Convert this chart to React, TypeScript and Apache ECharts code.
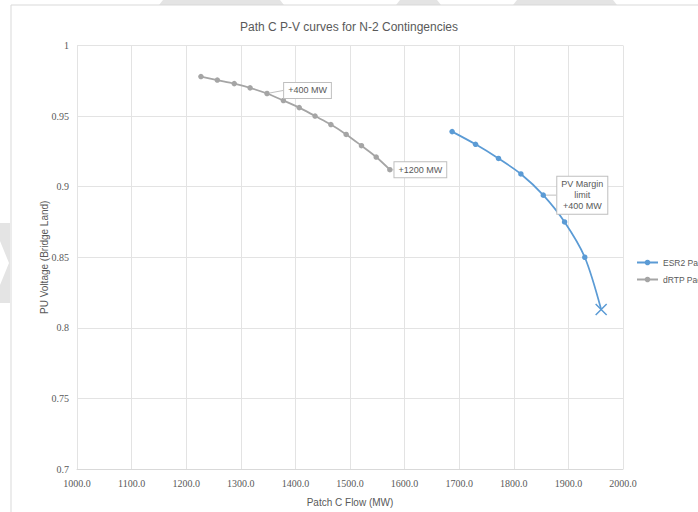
import React, { useEffect, useRef } from "react";
import * as echarts from "echarts";

const titleText = "Path C P-V curves for N-2 Contingencies";
const xAxisName = "Patch C Flow (MW)";
const yAxisName = "PU Voltage (Bridge Land)";
const seriesNames = ["ESR2 Pac7", "dRTP Pac7"];

const flowBlue = [1687, 1730, 1772, 1813, 1854, 1893, 1930, 1960];
const voltBlue = [0.939, 0.930, 0.920, 0.909, 0.894, 0.875, 0.850, 0.813];

const flowGray = [1227, 1257, 1288, 1317, 1348, 1378, 1407, 1436, 1465, 1493, 1521, 1548, 1573];
const voltGray = [0.978, 0.9755, 0.973, 0.970, 0.966, 0.961, 0.956, 0.950, 0.944, 0.937, 0.929, 0.921, 0.912];

const grayLabels: Record<number, string> = { 4: "+400 MW", 12: "+1200 MW" };
const blueLabels: Record<number, string> = { 4: "PV Margin\nlimit\n+400 MW" };

const BLUE = "#5B9BD5";
const GRAY = "#A5A5A5";
const TXT = "#595959";
const SANS = "'Liberation Sans', Arial, sans-serif";
const SERIF = "'Liberation Serif', serif";
const SYM = 5.5;

export default function App() {
  const ref = useRef<HTMLDivElement>(null);
  useEffect(() => {
    if (!ref.current) return;
    const chart = echarts.init(ref.current, null, { renderer: "svg" });

    const calloutLabel = (text: string, dx: number, dy: number) => ({
      show: true,
      formatter: text,
      position: [SYM / 2 + dx, SYM / 2 + dy],
      fontFamily: SANS,
      fontSize: 9,
      lineHeight: 11,
      color: TXT,
      align: "center",
      verticalAlign: "middle",
      backgroundColor: "#ffffff",
      borderColor: "#bfbfbf",
      borderWidth: 1,
      padding: [2, 4],
    });
    const guide = { show: true, lineStyle: { color: "#bfbfbf", width: 1 } };

    const blueData = flowBlue.map((x, i) => {
      const item: any = { value: [x, voltBlue[i]] };
      if (blueLabels[i]) {
        item.label = calloutLabel(blueLabels[i], 39, 0);
        item.labelLine = guide;
      }
      if (i === flowBlue.length - 1) {
        item.symbol = "path://M0,0L10,10M10,0L0,10";
        item.symbolSize = 11;
        item.itemStyle = { color: "none", borderColor: BLUE, borderWidth: 1.5 };
      }
      return item;
    });

    const grayData = flowGray.map((x, i) => {
      const item: any = { value: [x, voltGray[i]] };
      if (grayLabels[i]) {
        item.label = i === 4 ? calloutLabel(grayLabels[i], 40.5, -3) : calloutLabel(grayLabels[i], 30.5, 0);
        item.labelLine = guide;
      }
      return item;
    });

    chart.setOption({
      animation: false,
      backgroundColor: "#ffffff",
      title: {
        text: titleText,
        left: "center",
        top: 16,
        textStyle: { fontFamily: SANS, fontSize: 12, fontWeight: "normal", color: TXT },
      },
      graphic: [
        { type: "polygon", shape: { points: [[163, 0], [280, 0], [284, 5], [159, 5]] }, style: { fill: "#e4e4e4" }, silent: true },
        { type: "polygon", shape: { points: [[400, 0], [437, 0], [441, 5], [396, 5]] }, style: { fill: "#e4e4e4" }, silent: true },
        { type: "polygon", shape: { points: [[517, 0], [613, 0], [617, 5], [513, 5]] }, style: { fill: "#e4e4e4" }, silent: true },
        { type: "polygon", shape: { points: [[0, 223], [10, 223], [10, 303], [0, 303], [0, 285], [9, 263], [0, 241]] }, style: { fill: "#e4e4e4" }, silent: true },
        { type: "line", shape: { x1: 11, y1: 5, x2: 11, y2: 512 }, style: { stroke: "#d9d9d9", lineWidth: 1 }, silent: true },
        { type: "line", shape: { x1: 11, y1: 5, x2: 698, y2: 5 }, style: { stroke: "#d9d9d9", lineWidth: 1 }, silent: true },
      ],
      legend: {
        orient: "vertical",
        left: 636,
        top: 258,
        padding: 0,
        itemWidth: 21,
        itemHeight: 7,
        itemGap: 8,
        data: seriesNames,
        textStyle: { fontFamily: SANS, fontSize: 8.5, color: TXT },
      },
      grid: { left: 77, right: 75, top: 45.5, bottom: 43, containLabel: false },
      xAxis: {
        type: "value",
        min: 1000,
        max: 2000,
        interval: 100,
        name: xAxisName,
        nameLocation: "middle",
        nameGap: 28,
        nameMoveOverlap: false,
        nameTextStyle: { fontFamily: SANS, fontSize: 10, color: TXT },
        axisLine: { show: true, lineStyle: { color: "#d9d9d9" } },
        axisTick: { show: false },
        axisLabel: {
          fontFamily: SERIF,
          fontSize: 10,
          color: TXT,
          margin: 9,
          formatter: (v: number) => v.toFixed(1),
        },
        splitLine: { show: true, lineStyle: { color: "#e3e3e3" } },
      },
      yAxis: {
        type: "value",
        min: 0.7,
        max: 1,
        interval: 0.05,
        name: yAxisName,
        nameLocation: "middle",
        nameGap: 28,
        nameMoveOverlap: false,
        nameTextStyle: { fontFamily: SANS, fontSize: 10, color: TXT },
        axisLine: { show: false },
        axisTick: { show: false },
        axisLabel: {
          fontFamily: SERIF,
          fontSize: 10,
          color: TXT,
          margin: 8,
          formatter: (v: number) => String(parseFloat(v.toFixed(2))),
        },
        splitLine: { show: true, lineStyle: { color: "#e3e3e3" } },
      },
      series: [
        {
          name: seriesNames[0],
          type: "line",
          data: blueData,
          smooth: 0.3,
          symbol: "circle",
          symbolSize: SYM,
          showSymbol: true,
          lineStyle: { color: BLUE, width: 1.75 },
          itemStyle: { color: BLUE },
          z: 3,
        },
        {
          name: seriesNames[1],
          type: "line",
          data: grayData,
          smooth: 0.3,
          symbol: "circle",
          symbolSize: SYM,
          showSymbol: true,
          lineStyle: { color: GRAY, width: 1.75 },
          itemStyle: { color: GRAY },
          z: 2,
        },
      ],
    });
    return () => chart.dispose();
  }, []);
  return (
    <div
      ref={ref}
      style={{ position: "fixed", left: 0, top: 0, width: 698, height: 512, background: "#fff" }}
    />
  );
}
